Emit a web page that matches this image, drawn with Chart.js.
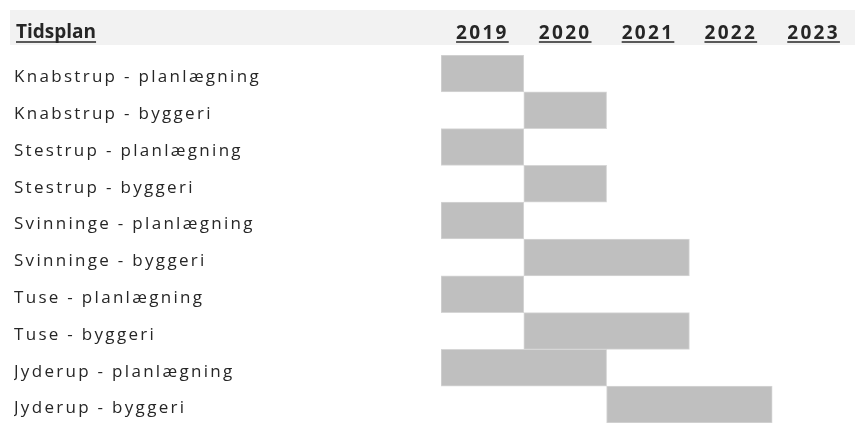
<!DOCTYPE html>
<html>
<head>
<meta charset="utf-8">
<script src="https://cdn.jsdelivr.net/npm/chart.js@4"></script>
<style>
  html, body { margin: 0; padding: 0; background: #fff; overflow: hidden; }
  #wrap { position: relative; width: 855px; height: 423px; }
</style>
</head>
<body>
<div id="wrap"><canvas id="chart"></canvas></div>
<script>
// data
const headerTitle = "Tidsplan";
const tasks = [
  "Knabstrup - planlægning",
  "Knabstrup - byggeri",
  "Stestrup - planlægning",
  "Stestrup - byggeri",
  "Svinninge - planlægning",
  "Svinninge - byggeri",
  "Tuse - planlægning",
  "Tuse - byggeri",
  "Jyderup - planlægning",
  "Jyderup - byggeri",
];
const startYear = [2019, 2020, 2019, 2020, 2019, 2020, 2019, 2020, 2019, 2021];
const endYear = [2020, 2021, 2020, 2021, 2020, 2022, 2020, 2022, 2021, 2023];
const yearLabels = ["2019", "2020", "2021", "2022", "2023"];

const textColor = "#262626";
const fontFamily = "'Open Sans', sans-serif";

// grå header-bånd + "Tidsplan" + understregning af årstal
const headerPlugin = {
  id: "header",
  beforeDraw(chart) {
    const ctx = chart.ctx;
    ctx.save();
    ctx.fillStyle = "#f2f2f2";
    ctx.fillRect(10, 10, chart.width - 10, 35);
    ctx.restore();
    // teksten i originalen er spredt ud
    ctx.letterSpacing = "2.3px";
  },
  afterDraw(chart) {
    const ctx = chart.ctx;
    const xs = chart.scales.x;
    ctx.save();
    ctx.fillStyle = textColor;
    ctx.strokeStyle = textColor;
    ctx.lineWidth = 1.5;
    ctx.font = "bold 19px " + fontFamily;
    ctx.textBaseline = "alphabetic";
    ctx.textAlign = "left";
    ctx.letterSpacing = "0px";
    ctx.fillText(headerTitle, 16, 38);
    let w = ctx.measureText(headerTitle).width;
    ctx.beginPath();
    ctx.moveTo(16, 42);
    ctx.lineTo(16 + w, 42);
    ctx.stroke();
    ctx.letterSpacing = "2.3px";
    yearLabels.forEach((y) => {
      const cx = xs.getPixelForValue(+y + 0.5);
      const tw = ctx.measureText(y).width;
      ctx.beginPath();
      ctx.moveTo(cx - tw / 2, 42);
      ctx.lineTo(cx + tw / 2, 42);
      ctx.stroke();
    });
    ctx.restore();
  },
};

const ctx = document.getElementById("chart").getContext("2d");
new Chart(ctx, {
  type: "bar",
  data: {
    labels: tasks,
    datasets: [
      {
        data: tasks.map((t, i) => [startYear[i], endYear[i]]),
        backgroundColor: "#bfbfbf",
        borderColor: "#d6d6d6",
        borderWidth: 1,
        borderSkipped: false,
        barPercentage: 1,
        categoryPercentage: 1,
      },
    ],
  },
  options: {
    indexAxis: "y",
    responsive: true,
    maintainAspectRatio: false,
    animation: false,
    layout: {
      padding: { left: 14, right: 0, top: 10, bottom: 0 },
    },
    plugins: {
      legend: { display: false },
      tooltip: { enabled: false },
    },
    scales: {
      x: {
        type: "linear",
        position: "top",
        min: 2019,
        max: 2024,
        grid: { display: false, drawTicks: false },
        border: { display: false },
        afterBuildTicks: (scale) => {
          scale.ticks = yearLabels.map((y) => ({ value: +y + 0.5 }));
        },
        afterFit: (scale) => {
          scale.height = 45;
          scale.paddingLeft = 0;
          scale.paddingRight = 0;
        },
        ticks: {
          autoSkip: false,
          maxRotation: 0,
          padding: 10,
          color: textColor,
          font: { family: fontFamily, size: 19, weight: "bold" },
          callback: (v) => String(Math.floor(v)),
        },
      },
      y: {
        grid: { display: false, drawTicks: false },
        border: { display: false },
        afterFit: (scale) => {
          scale.width = 427;
          scale.paddingTop = 0;
          scale.paddingBottom = 0;
        },
        ticks: {
          crossAlign: "far",
          labelOffset: 4,
          color: textColor,
          font: { family: fontFamily, size: 17 },
        },
      },
    },
  },
  plugins: [headerPlugin],
});
</script>
</body>
</html>
